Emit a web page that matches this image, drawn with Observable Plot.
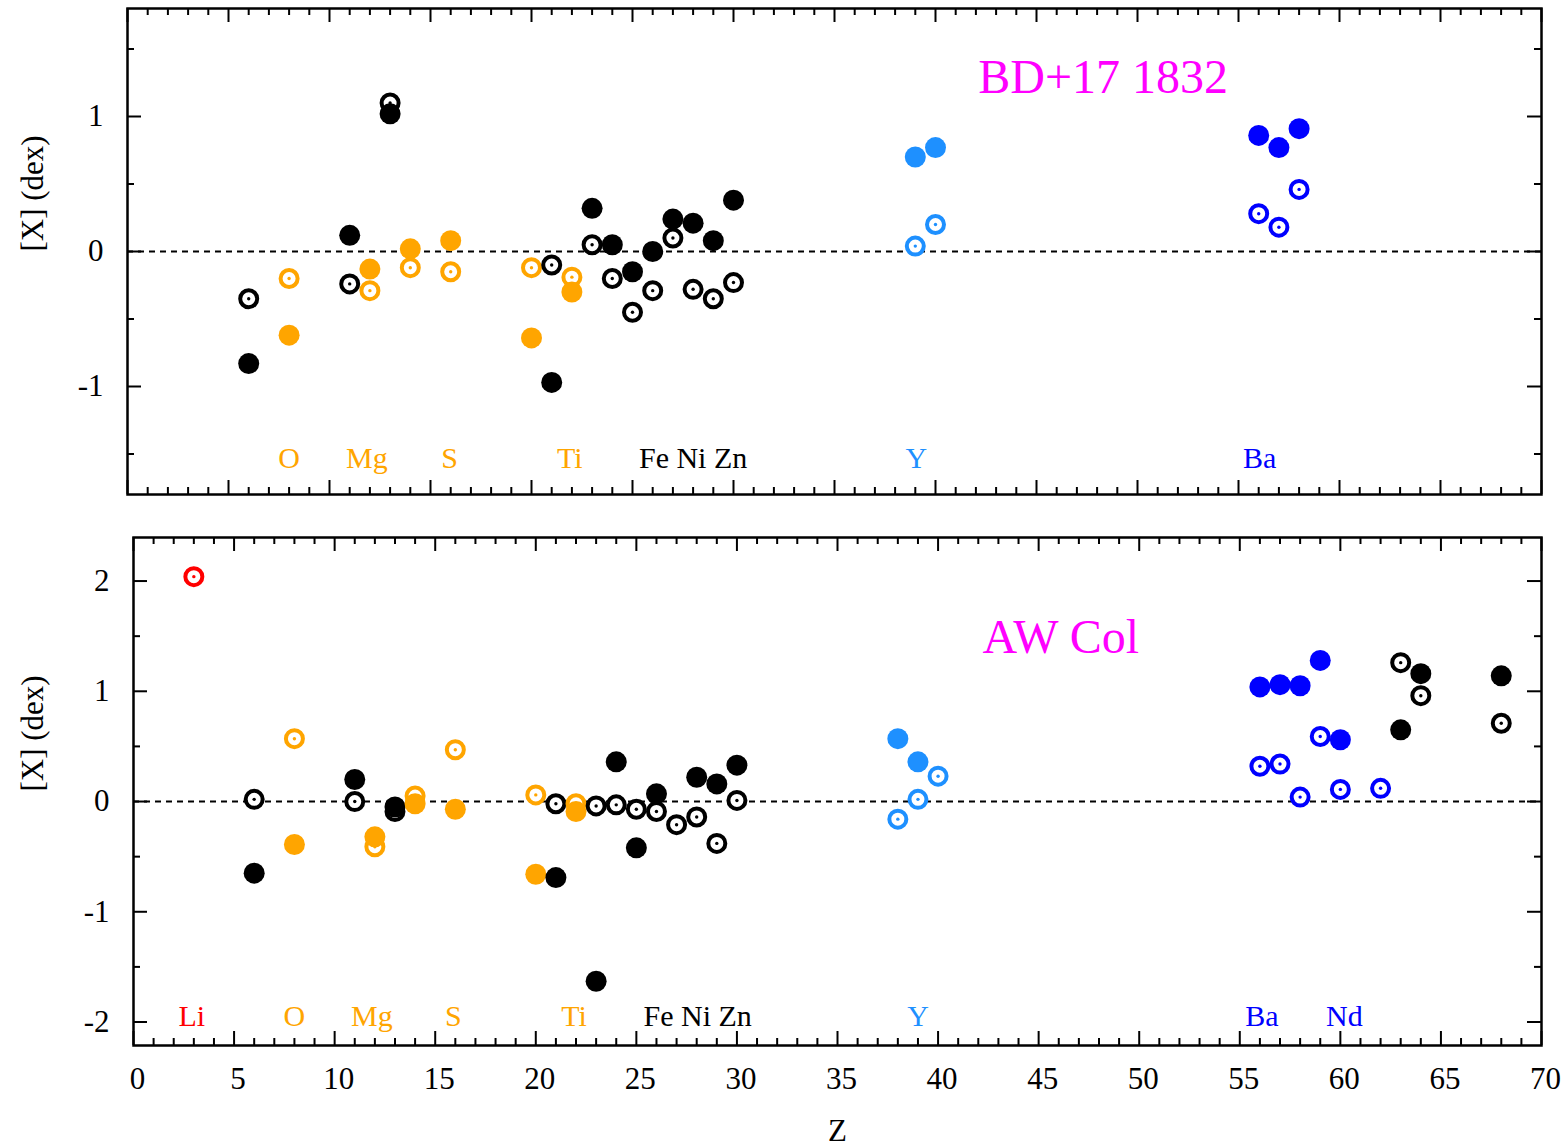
<!DOCTYPE html>
<html>
<head>
<meta charset="utf-8">
<script src="https://cdn.jsdelivr.net/npm/d3@7"></script>
<script src="https://cdn.jsdelivr.net/npm/@observablehq/plot@0.6"></script>
<style>
  body { margin: 0; background: white; }
  #wrap { position: relative; width: 1567px; height: 1147px; background: white; }
  #wrap svg { position: absolute; left: 0; }
</style>
</head>
<body>
<div id="wrap"></div>
<script>
// ---------- Data: BD+17 1832 (top panel) ----------
const topZ      = [6, 8, 11, 12, 13, 14, 16, 20, 21, 22, 23, 24, 25, 26, 27, 28, 29, 30, 39, 40, 56, 57, 58];
const topFilled = [-0.83, -0.62, 0.12, -0.13, 1.02, 0.02, 0.08, -0.64, -0.97, -0.30, 0.32, 0.05, -0.15, 0.00, 0.24, 0.21, 0.08, 0.38, 0.70, 0.77, 0.86, 0.77, 0.91];
const topOpen   = [-0.35, -0.20, -0.24, -0.29, 1.10, -0.12, -0.15, -0.12, -0.10, -0.19, 0.05, -0.20, -0.45, -0.29, 0.10, -0.28, -0.35, -0.23, 0.04, 0.20, 0.28, 0.18, 0.46];
const topGroup  = ["k","o","k","o","k","o","o","o","k","o","k","k","k","k","k","k","k","k","lb","lb","b","b","b"];

// ---------- Data: AW Col (bottom panel) ----------
const botZ      = [3, 6, 8, 11, 12, 13, 14, 16, 20, 21, 22, 23, 24, 25, 26, 27, 28, 29, 30, 38, 39, 40, 56, 57, 58, 59, 60, 62, 63, 64, 68];
const botFilled = [null, -0.65, -0.39, 0.20, -0.32, -0.05, -0.02, -0.07, -0.66, -0.69, -0.09, -1.63, 0.36, -0.42, 0.07, null, 0.22, 0.16, 0.33, 0.57, 0.36, null, 1.04, 1.06, 1.05, 1.28, 0.56, null, 0.65, 1.16, 1.14];
const botOpen   = [2.04, 0.02, 0.57, 0.00, -0.41, -0.09, 0.05, 0.47, 0.06, -0.02, -0.02, -0.04, -0.03, -0.07, -0.09, -0.21, -0.14, -0.38, 0.01, -0.16, 0.02, 0.23, 0.32, 0.34, 0.04, 0.59, 0.11, 0.12, 1.26, 0.96, 0.71];
const botGroup  = ["r","k","o","k","o","k","o","o","o","k","o","k","k","k","k","k","k","k","k","lb","lb","lb","b","b","b","b","b","b","k","k","k"];

// ---------- Element labels ----------
const topLabels     = ["O", "Mg", "S", "Ti", "Fe Ni Zn", "Y", "Ba"];
const topLabelZ     = [8, 11.85, 15.95, 21.9, 28.0, 39.05, 56.05];
const topLabelGroup = ["o", "o", "o", "o", "k", "lb", "b"];
const botLabels     = ["Li", "O", "Mg", "S", "Ti", "Fe Ni Zn", "Y", "Ba", "Nd"];
const botLabelZ     = [2.9, 8.0, 11.85, 15.9, 21.9, 28.05, 39.0, 56.1, 60.2];
const botLabelGroup = ["r", "o", "o", "o", "o", "k", "lb", "b", "b"];

const topTitle = "BD+17 1832", botTitle = "AW Col";
const xTicksMajor = d3.range(0, 71, 5);
const xTicksMinor = d3.range(0, 71, 1).filter(d => d % 5 !== 0);

const palette = {k: "#000000", o: "#FFA500", lb: "#1E90FF", b: "#0000FF", r: "#FF0000"};
const FONT = "'Liberation Serif', 'Times New Roman', serif";

function rows(Z, vals, groups) {
  return Z.map((z, i) => ({z, v: vals[i], c: palette[groups[i]]})).filter(d => d.v != null);
}
function labelRows(names, Z, groups, y) {
  return names.map((n, i) => ({n, z: Z[i], y, c: palette[groups[i]]}));
}

function panel({Z, filled, open, groups, yDomain, yMajor, yMinor, labels, labelZ, labelGroup, labelY,
                title, titleZ, titleY, height, mt, mb, ml, mr, xLabels, r}) {
  const W = 1567;
  const pw = W - ml - mr, ph = height - mt - mb;
  const openRows = rows(Z, open, groups);
  const filledRows = rows(Z, filled, groups);
  const TL = 14, TS = 7;
  const marks = [
    Plot.ruleY([0], {strokeDasharray: "6,5", strokeWidth: 2, stroke: "black"}),
    // ticks: x bottom & top
    Plot.tickX(xTicksMajor, {x: d => d, insetTop: ph - TL, strokeWidth: 2}),
    Plot.tickX(xTicksMinor, {x: d => d, insetTop: ph - TS, strokeWidth: 2}),
    Plot.tickX(xTicksMajor, {x: d => d, insetBottom: ph - TL, strokeWidth: 2}),
    Plot.tickX(xTicksMinor, {x: d => d, insetBottom: ph - TS, strokeWidth: 2}),
    // ticks: y left & right
    Plot.tickY(yMajor, {y: d => d, insetRight: pw - TL, strokeWidth: 2}),
    Plot.tickY(yMinor, {y: d => d, insetRight: pw - TS, strokeWidth: 2}),
    Plot.tickY(yMajor, {y: d => d, insetLeft: pw - TL, strokeWidth: 2}),
    Plot.tickY(yMinor, {y: d => d, insetLeft: pw - TS, strokeWidth: 2}),
    Plot.axisY(yMajor, {anchor: "left", tickSize: 0, tickPadding: 24, fontSize: 31, fontFamily: FONT, label: null, tickFormat: d => `${d}`}),
    // open (target) symbols
    Plot.dot(openRows, {x: "z", y: "v", r: r - 2, stroke: "c", strokeWidth: 4, fill: "white"}),
    Plot.dot(openRows, {x: "z", y: "v", r: 1.7, fill: "c"}),
    // filled symbols
    Plot.dot(filledRows, {x: "z", y: "v", r: r, fill: "c"}),
    // element labels
    Plot.text(labelRows(labels, labelZ, labelGroup, labelY), {x: "z", y: "y", text: "n", fill: "c", fontSize: 30}),
    Plot.text([title], {x: () => titleZ, y: () => titleY, text: d => d, fill: "#FF00FF", fontSize: 48}),
    Plot.text(["[X] (dex)"], {frameAnchor: "left", text: d => d, rotate: -90, dx: -(ml - 33), fontSize: 31}),
    Plot.frame({strokeWidth: 2.5, stroke: "black"})
  ];
  if (xLabels) {
    marks.push(Plot.axisX(xTicksMajor, {anchor: "bottom", tickSize: 0, tickPadding: 21, fontSize: 31, fontFamily: FONT, label: null, dx: 4, tickFormat: d => `${d}`}));
    marks.push(Plot.text(["Z"], {frameAnchor: "bottom", text: d => d, dy: 95, fontSize: 31}));
  }
  return Plot.plot({
    width: W, height,
    marginTop: mt, marginBottom: mb, marginLeft: ml, marginRight: mr,
    x: {domain: [0, 70], axis: null},
    y: {domain: yDomain},
    color: {type: "identity"},
    style: {fontFamily: FONT, background: "white", color: "black", overflow: "visible"},
    marks
  });
}

const wrap = document.getElementById("wrap");

const topSvg = panel({
  Z: topZ, filled: topFilled, open: topOpen, groups: topGroup,
  yDomain: [-1.8, 1.8], yMajor: [-1, 0, 1], yMinor: [-1.5, -0.5, 0.5, 1.5],
  labels: topLabels, labelZ: topLabelZ, labelGroup: topLabelGroup, labelY: -1.535,
  title: topTitle, titleZ: 48.3, titleY: 1.29,
  height: 500, mt: 8, mb: 6, ml: 127, mr: 26, xLabels: false, r: 10.5
});
topSvg.style.top = "0px";
wrap.appendChild(topSvg);

const botSvg = panel({
  Z: botZ, filled: botFilled, open: botOpen, groups: botGroup,
  yDomain: [-2.213, 2.395], yMajor: [-2, -1, 0, 1, 2], yMinor: [-1.5, -0.5, 0.5, 1.5],
  labels: botLabels, labelZ: botLabelZ, labelGroup: botLabelGroup, labelY: -1.95,
  title: botTitle, titleZ: 46.1, titleY: 1.49,
  height: 647, mt: 37, mb: 102, ml: 133, mr: 26, xLabels: true, r: 10.5
});
botSvg.style.top = "500px";
wrap.appendChild(botSvg);
</script>
</body>
</html>
